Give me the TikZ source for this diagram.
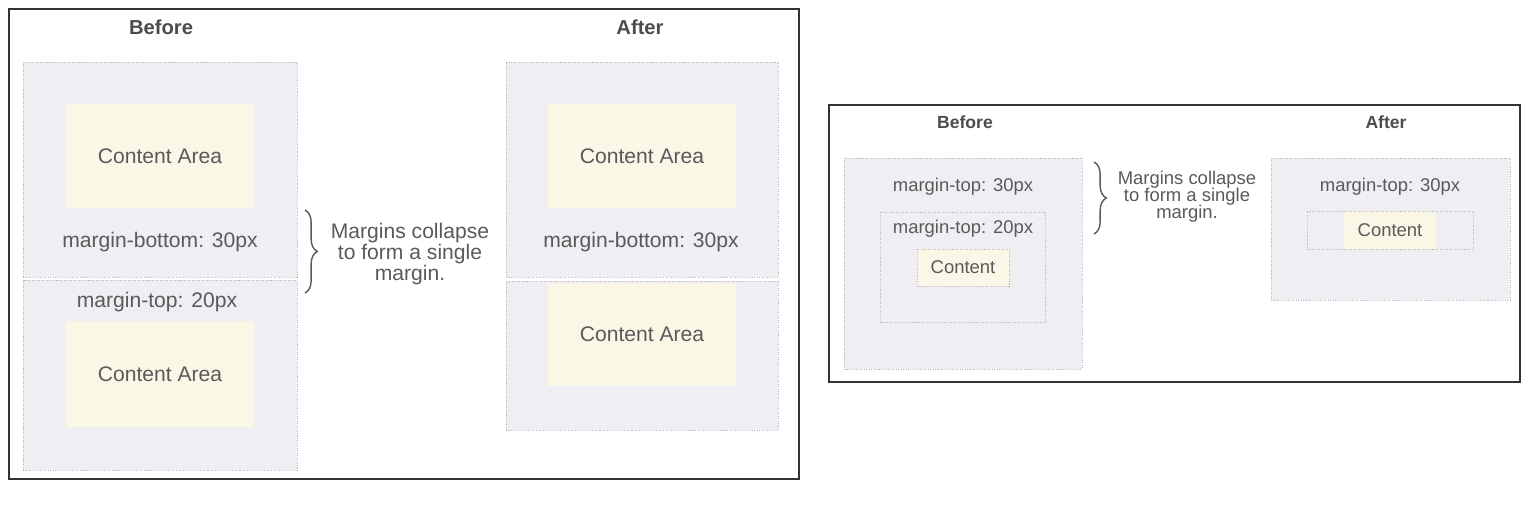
\documentclass[tikz,border=0pt]{standalone}
\usepackage{fontspec}
\setmainfont{Liberation Sans}
\usepackage{tikz}
\usetikzlibrary{decorations.pathreplacing,fit,positioning}
\definecolor{boxgray}{HTML}{EEEEF3}
\definecolor{areayellow}{HTML}{FAF7E6}
\definecolor{txtgray}{HTML}{5A5A5A}
\definecolor{dotgray}{HTML}{B9B9C2}

\begin{document}
\begin{tikzpicture}[x=0.02cm,y=-0.02cm,
    panel/.style={draw=black!80,line width=0.8pt,fill=white,inner sep=0pt},
    marginbox/.style={fill=boxgray,draw=dotgray,dash pattern=on 0.6pt off 0.8pt,line width=0.5pt,inner sep=0pt},
    area/.style={fill=areayellow,inner sep=0pt},
    bigtxt/.style={text=txtgray,font=\fontsize{12}{12}\selectfont},
    smalltxt/.style={text=txtgray,font=\fontsize{10.5}{9.8}\selectfont},
    bigtitle/.style={text=black!70,font=\fontsize{11.5}{12}\selectfont\bfseries},
    smalltitle/.style={text=black!70,font=\fontsize{10}{10}\selectfont\bfseries},
    bracket/.style={decorate,decoration={brace,amplitude=7pt},draw=txtgray,line width=0.8pt}]
    \useasboundingbox (0,0) rectangle (1533,510);

    % left picture: sibling boxes
    \node[panel, fit={(9,9) (799,479)}] (leftpanel) {};
    \node[bigtitle] (beforeA) at (161,27) {Before};
    \node[bigtitle] (afterA) at (640,27) {After};
    \node[marginbox, fit={(23,62) (297,277)}] (boxA) {};
    \node[marginbox, fit={(23,280) (297,470)}] (boxB) {};
    \node[area, fit={(66,104) (254,208)}] (areaA) {};
    \node[bigtxt] (areaAtxt) at (areaA) {Content Area};
    \node[bigtxt] (mbA) at (160,242) {margin-bottom: 30px};
    \node[bigtxt] (mtB) at (157,302) {margin-top: 20px};
    \node[area, fit={(66,321) (254,427)}] (areaB) {};
    \node[bigtxt] (areaBtxt) at (areaB) {Content Area};
    \draw[bracket] (305,210) -- (305,293);
    \node[bigtxt, align=center] (noteA) at (410,254) {Margins collapse\\to form a single\\margin.};
    \node[marginbox, fit={(506,62) (778,277)}] (boxC) {};
    \node[marginbox, fit={(506,281) (778,430)}] (boxD) {};
    \node[area, fit={(548,104) (736,208)}] (areaC) {};
    \node[bigtxt] (areaCtxt) at (areaC) {Content Area};
    \node[bigtxt] (mbC) at (641,242) {margin-bottom: 30px};
    \node[area, fit={(548,283) (736,386)}] (areaD) {};
    \node[bigtxt] (areaDtxt) at (areaD) {Content Area};

    % right picture: parent and child
    \node[panel, fit={(829,105) (1520,382)}] (rightpanel) {};
    \node[smalltitle] (beforeB) at (965,122) {Before};
    \node[smalltitle] (afterB) at (1386,122) {After};
    \node[marginbox, fit={(844,158) (1082,369)}] (outerE) {};
    \node[smalltxt] (mtE) at (963,187) {margin-top: 30px};
    \node[marginbox, fit={(880,212) (1045,322)}] (innerE) {};
    \node[smalltxt] (mtF) at (963,229) {margin-top: 20px};
    \node[area, draw=dotgray, dash pattern=on 0.6pt off 0.8pt, line width=0.5pt, fit={(917,249) (1009,286)}] (contE) {};
    \node[smalltxt] (contEtxt) at (contE) {Content};
    \draw[bracket] (1094,162) -- (1094,234);
    \node[smalltxt, align=center] (noteB) at (1187,197) {Margins collapse\\to form a single\\margin.};
    \node[marginbox, fit={(1271,158) (1510,300)}] (outerG) {};
    \node[smalltxt] (mtG) at (1390,187) {margin-top: 30px};
    \node[area, fit={(1344,211) (1436,249)}] (contG) {};
    \node[marginbox, fill=none, fit={(1307,211) (1473,249)}] (innerG) {};  % child box without fill
    \node[smalltxt] (contGtxt) at (contG) {Content};
\end{tikzpicture}
\end{document}
